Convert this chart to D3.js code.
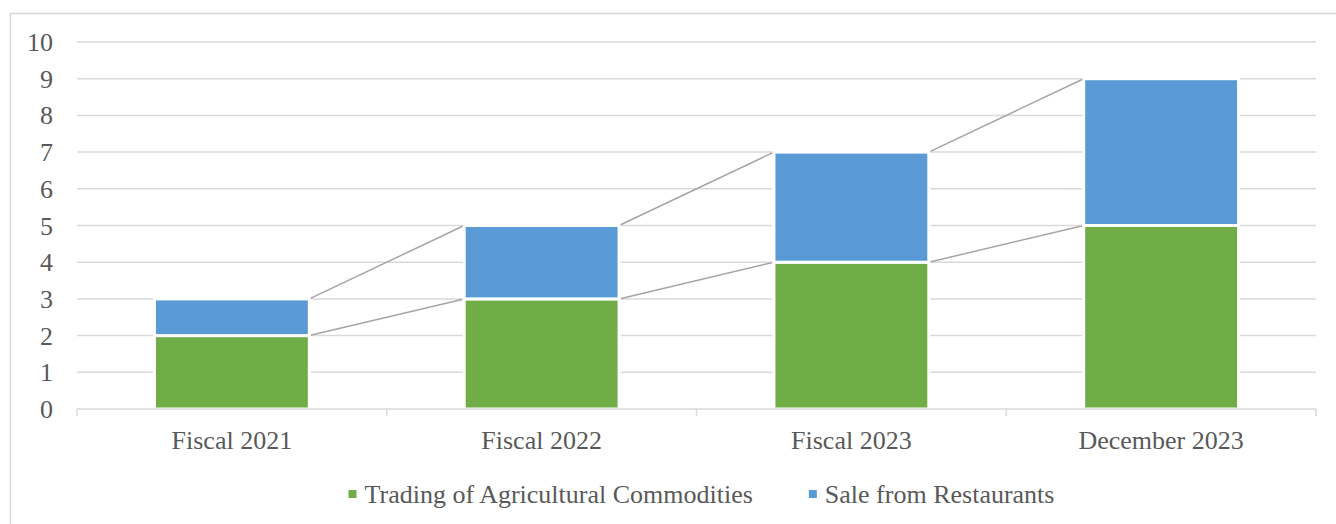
<!DOCTYPE html>
<html><head><meta charset="utf-8">
<script src="https://cdn.jsdelivr.net/npm/d3@7/dist/d3.min.js"></script>
</head>
<body style="margin:0">
<svg id="chart" width="1336" height="524"></svg>
<script>
const categories = ["Fiscal 2021", "Fiscal 2022", "Fiscal 2023", "December 2023"];
const trading = [2, 3, 4, 5];
const restaurants = [1, 2, 3, 4];
const seriesNames = ["Trading of Agricultural Commodities", "Sale from Restaurants"];
const seriesColors = ["#70ad47", "#5b9bd5"];
const yTicks = [0,1,2,3,4,5,6,7,8,9,10];

(function(){
const svg = d3.select("#chart");
const fs = 26;
const FONT = "Liberation Serif";
const txt = sel => sel.attr("font-family",FONT).attr("font-size",fs).attr("fill","#595959");

svg.append("rect").attr("x",10.5).attr("y",13.5).attr("width",1340).attr("height",520)
  .attr("fill","none").attr("stroke","#d9d9d9").attr("stroke-width",1.5);

const pL = 77, pR = 1316, pT = 42, pB = 409;
const x = d3.scaleBand().domain(categories).range([pL,pR]).padding(0);
const y = d3.scaleLinear().domain([0,10]).range([pB,pT]);

svg.append("g").selectAll("line").data(yTicks.filter(d=>d>0)).join("line")
  .attr("x1",pL).attr("x2",pR)
  .attr("y1",d=>y(d)).attr("y2",d=>y(d))
  .attr("stroke","#d9d9d9").attr("stroke-width",1.5);

svg.append("g").selectAll("text").data(yTicks).join("text")
  .attr("x",53).attr("y",d=>y(d)+9)
  .attr("text-anchor","end").call(txt)
  .text(d=>d);

const rows = categories.map((c,i)=>({cat:c, trading:trading[i], restaurants:restaurants[i]}));
const stack = d3.stack().keys(["trading","restaurants"])(rows);

const bw = x.bandwidth()*0.5;
const bx = c => x(c) + (x.bandwidth()-bw)/2;

stack.forEach((s,si)=>{
  const segs = [];
  for(let i=0;i<s.length-1;i++){
    segs.push({x1: bx(categories[i])+bw, y1: y(s[i][1]), x2: bx(categories[i+1]), y2: y(s[i+1][1])});
  }
  svg.append("g").selectAll("line").data(segs).join("line")
    .attr("x1",d=>d.x1).attr("y1",d=>d.y1).attr("x2",d=>d.x2).attr("y2",d=>d.y2)
    .attr("stroke","#a5a5a5").attr("stroke-width",1.5);
});

stack.forEach((s,si)=>{
  svg.append("g").selectAll("rect").data(s).join("rect")
    .attr("x",d=>bx(d.data.cat)).attr("width",bw)
    .attr("y",d=>y(d[1])).attr("height",d=>y(d[0])-y(d[1]))
    .attr("fill",seriesColors[si]).attr("stroke","#fff").attr("stroke-width",3);
});

svg.append("line").attr("x1",pL).attr("x2",pR).attr("y1",pB).attr("y2",pB)
  .attr("stroke","#d9d9d9").attr("stroke-width",1.5);
const tickXs = categories.map(c=>x(c)).concat([pR]);
svg.append("g").selectAll("line").data(tickXs).join("line")
  .attr("x1",d=>d).attr("x2",d=>d).attr("y1",pB).attr("y2",416)
  .attr("stroke","#d9d9d9").attr("stroke-width",1.5);

svg.append("g").selectAll("text").data(categories).join("text")
  .attr("x",d=>x(d)+x.bandwidth()/2).attr("y",449)
  .attr("text-anchor","middle").call(txt)
  .text(d=>d);

const lg = svg.append("g");
const items = seriesNames.map((n,i)=>{
  const g = lg.append("g");
  g.append("rect").attr("width",8).attr("height",8).attr("y",-4).attr("fill",seriesColors[i]);
  const t = g.append("text").attr("x",16).attr("y",9).call(txt).text(n);
  return {g, w: 16 + t.node().getComputedTextLength()};
});
const gap = 56;
const total = items.reduce((a,b)=>a+b.w,0) + gap*(items.length-1);
let cx = (pL+pR)/2 - total/2 + 5;
items.forEach(it=>{ it.g.attr("transform",`translate(${cx},494)`); cx += it.w + gap; });
})();
</script>
</body></html>
